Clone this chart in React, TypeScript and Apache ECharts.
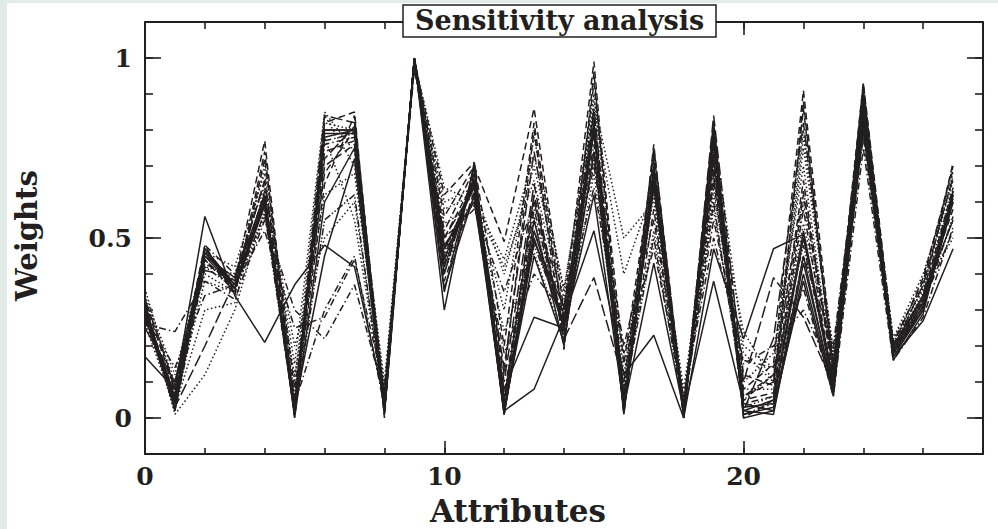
import React, { useEffect, useRef } from "react";
import * as echarts from "echarts";

// Attribute indices on the x axis
const attributes = [0, 1, 2, 3, 4, 5, 6, 7, 8, 9, 10, 11, 12, 13, 14, 15, 16, 17, 18, 19, 20, 21, 22, 23, 24, 25, 26, 27];

// Tick values
const xMinorTicks = [0, 2, 4, 6, 8, 10, 12, 14, 16, 18, 20, 22, 24, 26, 28];
const xMajorTicks = [0, 10, 20];
const yMinorTicks = [-0.1, 0, 0.1, 0.2, 0.3, 0.4, 0.5, 0.6, 0.7, 0.8, 0.9, 1, 1.1];
const yMajorTicks = [0, 0.5, 1];

// Weight profiles (one per sensitivity run)
const s1 = [0.28, 0.04, 0.47, 0.36, 0.60, 0.01, 0.80, 0.80, 0.02, 1.00, 0.42, 0.66, 0.01, 0.50, 0.25, 0.82, 0.02, 0.68, 0.01, 0.80, 0.02, 0.05, 0.52, 0.10, 0.88, 0.18, 0.30, 0.63];
const s2 = [0.17, 0.08, 0.56, 0.34, 0.21, 0.37, 0.48, 0.42, 0.05, 1.00, 0.36, 0.62, 0.02, 0.08, 0.28, 0.52, 0.12, 0.23, 0.00, 0.47, 0.22, 0.47, 0.51, 0.08, 0.80, 0.17, 0.27, 0.47];
const s3 = [0.32, 0.02, 0.45, 0.39, 0.62, 0.00, 0.60, 0.75, 0.03, 0.99, 0.48, 0.60, 0.08, 0.28, 0.25, 0.62, 0.03, 0.43, 0.02, 0.38, 0.04, 0.02, 0.40, 0.07, 0.82, 0.20, 0.34, 0.55];
const s4 = [0.30, 0.06, 0.43, 0.38, 0.77, 0.02, 0.65, 0.84, 0.01, 1.00, 0.56, 0.70, 0.49, 0.86, 0.30, 0.99, 0.05, 0.74, 0.03, 0.68, 0.08, 0.15, 0.91, 0.15, 0.93, 0.21, 0.38, 0.70];
const s5 = [0.33, 0.10, 0.40, 0.35, 0.70, 0.10, 0.84, 0.70, 0.08, 0.98, 0.60, 0.64, 0.40, 0.70, 0.33, 0.88, 0.50, 0.60, 0.06, 0.62, 0.18, 0.10, 0.75, 0.18, 0.86, 0.20, 0.36, 0.68];
const s6 = [0.26, 0.24, 0.38, 0.33, 0.55, 0.30, 0.22, 0.37, 0.06, 0.97, 0.50, 0.58, 0.35, 0.60, 0.30, 0.70, 0.20, 0.55, 0.05, 0.55, 0.15, 0.20, 0.30, 0.12, 0.78, 0.19, 0.32, 0.52];
const s7 = [0.29, 0.03, 0.20, 0.38, 0.66, 0.05, 0.72, 0.81, 0.02, 1.00, 0.40, 0.68, 0.10, 0.65, 0.22, 0.39, 0.10, 0.70, 0.01, 0.84, 0.10, 0.39, 0.28, 0.09, 0.90, 0.18, 0.31, 0.60];
const s8 = [0.31, 0.01, 0.12, 0.30, 0.58, 0.03, 0.78, 0.55, 0.04, 0.99, 0.46, 0.66, 0.05, 0.56, 0.26, 0.80, 0.08, 0.62, 0.02, 0.74, 0.03, 0.06, 0.60, 0.14, 0.85, 0.19, 0.35, 0.64];
const s9 = [0.28, 0.05, 0.48, 0.40, 0.59, 0.04, 0.30, 0.45, 0.03, 1.00, 0.52, 0.69, 0.02, 0.52, 0.28, 0.76, 0.04, 0.66, 0.02, 0.70, 0.01, 0.04, 0.45, 0.20, 0.87, 0.17, 0.33, 0.62];
const s10 = [0.30, 0.05, 0.47, 0.37, 0.61, 0.02, 0.78, 0.80, 0.02, 1.00, 0.44, 0.65, 0.02, 0.45, 0.21, 0.74, 0.02, 0.66, 0.01, 0.77, 0.01, 0.03, 0.38, 0.06, 0.84, 0.17, 0.30, 0.60];
const s11 = [0.27, 0.07, 0.44, 0.36, 0.63, 0.01, 0.70, 0.76, 0.05, 1.00, 0.38, 0.63, 0.04, 0.62, 0.24, 0.85, 0.03, 0.58, 0.01, 0.66, 0.06, 0.10, 0.66, 0.11, 0.83, 0.20, 0.34, 0.58];
const s12 = [0.34, 0.12, 0.46, 0.42, 0.68, 0.06, 0.82, 0.80, 0.07, 0.98, 0.58, 0.62, 0.30, 0.78, 0.35, 0.90, 0.12, 0.70, 0.04, 0.80, 0.20, 0.14, 0.80, 0.16, 0.90, 0.22, 0.37, 0.66];
const s13 = [0.29, 0.02, 0.42, 0.36, 0.57, 0.01, 0.55, 0.62, 0.02, 1.00, 0.43, 0.67, 0.06, 0.48, 0.27, 0.72, 0.06, 0.50, 0.02, 0.60, 0.05, 0.12, 0.48, 0.10, 0.80, 0.18, 0.31, 0.56];
const s14 = [0.31, 0.04, 0.46, 0.37, 0.60, 0.03, 0.45, 0.72, 0.01, 1.00, 0.47, 0.64, 0.01, 0.49, 0.31, 0.79, 0.04, 0.64, 0.02, 0.72, 0.02, 0.01, 0.43, 0.08, 0.85, 0.19, 0.32, 0.61];
const s15 = [0.32, 0.08, 0.48, 0.34, 0.72, 0.08, 0.68, 0.80, 0.04, 0.99, 0.62, 0.71, 0.20, 0.82, 0.26, 0.93, 0.15, 0.72, 0.03, 0.78, 0.12, 0.09, 0.86, 0.13, 0.92, 0.20, 0.39, 0.69];
const s16 = [0.26, 0.03, 0.30, 0.32, 0.64, 0.20, 0.50, 0.60, 0.03, 0.99, 0.54, 0.59, 0.42, 0.66, 0.30, 0.74, 0.10, 0.68, 0.02, 0.64, 0.10, 0.18, 0.70, 0.12, 0.88, 0.21, 0.36, 0.50];
const s17 = [0.30, 0.06, 0.46, 0.38, 0.62, 0.02, 0.76, 0.78, 0.02, 1.00, 0.45, 0.66, 0.03, 0.58, 0.24, 0.82, 0.05, 0.64, 0.01, 0.76, 0.04, 0.06, 0.58, 0.09, 0.86, 0.18, 0.32, 0.63];
const s18 = [0.29, 0.06, 0.45, 0.36, 0.59, 0.01, 0.79, 0.79, 0.03, 1.00, 0.35, 0.70, 0.02, 0.52, 0.26, 0.80, 0.02, 0.67, 0.00, 0.79, 0.03, 0.04, 0.50, 0.11, 0.87, 0.18, 0.31, 0.62];
const s19 = [0.33, 0.09, 0.41, 0.39, 0.66, 0.04, 0.84, 0.82, 0.05, 0.99, 0.50, 0.64, 0.14, 0.74, 0.28, 0.86, 0.06, 0.75, 0.03, 0.73, 0.02, 0.22, 0.82, 0.14, 0.91, 0.19, 0.37, 0.67];
const s20 = [0.27, 0.04, 0.38, 0.35, 0.56, 0.12, 0.62, 0.68, 0.06, 0.99, 0.41, 0.61, 0.24, 0.46, 0.22, 0.68, 0.08, 0.52, 0.04, 0.58, 0.08, 0.08, 0.54, 0.17, 0.83, 0.20, 0.33, 0.55];
const s21 = [0.28, 0.14, 0.34, 0.37, 0.52, 0.25, 0.28, 0.44, 0.08, 0.98, 0.47, 0.60, 0.18, 0.40, 0.29, 0.64, 0.18, 0.47, 0.06, 0.50, 0.16, 0.14, 0.36, 0.06, 0.75, 0.16, 0.28, 0.53];
const s22 = [0.30, 0.05, 0.47, 0.37, 0.61, 0.03, 0.74, 0.77, 0.04, 1.00, 0.44, 0.67, 0.05, 0.60, 0.25, 0.84, 0.03, 0.66, 0.02, 0.75, 0.05, 0.07, 0.62, 0.12, 0.89, 0.19, 0.34, 0.64];
const s23 = [0.25, 0.10, 0.46, 0.36, 0.60, 0.02, 0.80, 0.80, 0.02, 1.00, 0.30, 0.71, 0.01, 0.55, 0.20, 0.80, 0.01, 0.70, 0.00, 0.82, 0.00, 0.02, 0.45, 0.07, 0.86, 0.16, 0.29, 0.62];
const s24 = [0.31, 0.03, 0.44, 0.35, 0.74, 0.00, 0.82, 0.85, 0.00, 1.00, 0.50, 0.66, 0.12, 0.80, 0.19, 0.96, 0.01, 0.76, 0.00, 0.82, 0.00, 0.05, 0.88, 0.10, 0.93, 0.18, 0.34, 0.71];
const s25 = [0.36, 0.07, 0.42, 0.40, 0.65, 0.15, 0.85, 0.74, 0.10, 0.99, 0.64, 0.60, 0.44, 0.73, 0.36, 0.86, 0.40, 0.64, 0.08, 0.66, 0.24, 0.10, 0.78, 0.19, 0.84, 0.22, 0.40, 0.66];
const s26 = [0.29, 0.08, 0.47, 0.36, 0.61, 0.04, 0.77, 0.79, 0.03, 1.00, 0.40, 0.69, 0.06, 0.62, 0.22, 0.81, 0.04, 0.69, 0.02, 0.78, 0.06, 0.12, 0.63, 0.14, 0.88, 0.19, 0.33, 0.63];

const runs = [s1, s2, s3, s4, s5, s6, s7, s8, s9, s10, s11, s12, s13, s14, s15, s16, s17, s18, s19, s20, s21, s22, s23, s24, s25, s26];
const runStyles = [
  "solid", "solid", "solid", "dashed", "dotted", "dashdot", "longdash", "dotted", "dashdot", "solid", "dashed",
  "dotted", "dashdotdot", "solid", "dashed", "dotted", "dashdot", "solid", "longdash", "dotted", "dashdot", "dashed",
  "solid", "dashed", "dotted", "dashdot",
];

const INK = "#231f20";
const FONT = "'DejaVu Serif', 'Liberation Serif', serif";

function dashOf(name: string): any {
  switch (name) {
    case "dashed": return [7, 4];
    case "dotted": return [1.5, 2.5];
    case "dashdot": return [7, 3, 1.5, 3];
    case "longdash": return [12, 4];
    case "dashdotdot": return [7, 2, 1.5, 2, 1.5, 2];
    default: return "solid";
  }
}

export default function App() {
  const ref = useRef<HTMLDivElement>(null);
  useEffect(() => {
    if (!ref.current) return;
    const chart = echarts.init(ref.current, undefined, { renderer: "svg" });
    const tickStyle = { color: INK, width: 1.6 };
    const line = { show: true, onZero: false, lineStyle: { color: INK, width: 2 } };
    const noLine = { show: false, onZero: false };
    const xAx = (grid: number, pos: string, axisLine: any, len: number, ticks: number[], label: any) => ({
      type: "value", gridIndex: grid, position: pos, min: 0, max: 28, splitLine: { show: false },
      axisLine, axisTick: { inside: true, length: len, customValues: ticks, lineStyle: tickStyle }, axisLabel: label,
    });
    const yAx = (grid: number, pos: string, axisLine: any, len: number, ticks: number[], label: any) => ({
      type: "value", gridIndex: grid, position: pos, min: -0.1, max: 1.1, splitLine: { show: false },
      axisLine, axisTick: { inside: true, length: len, customValues: ticks, lineStyle: tickStyle }, axisLabel: label,
    });
    const labelFont = { fontFamily: FONT, fontWeight: "bold", fontSize: 25, color: INK };
    const option: any = {
      animation: false,
      backgroundColor: "#ffffff",
      title: {
        text: "Sensitivity analysis",
        left: 403,
        top: 5,
        padding: [2, 12, 3, 12],
        backgroundColor: "#ffffff",
        borderColor: INK,
        borderWidth: 1.5,
        textStyle: { fontFamily: FONT, fontWeight: "bold", fontSize: 27, color: INK },
      },
      grid: [
        { left: 145, right: 15, top: 22, bottom: 75, containLabel: false },
        { left: 145, right: 15, top: 22, bottom: 75, containLabel: false },
      ],
      xAxis: [
        xAx(0, "bottom", line, 6, xMinorTicks, { show: false }),
        xAx(0, "top", line, 7, xMinorTicks, { show: false }),
        xAx(1, "bottom", noLine, 13, xMajorTicks, { show: true, customValues: xMajorTicks, margin: 10, ...labelFont }),
        xAx(1, "top", noLine, 13, xMajorTicks, { show: false }),
      ],
      yAxis: [
        yAx(0, "left", line, 8, yMinorTicks, { show: false }),
        yAx(0, "right", line, 8, yMinorTicks, { show: false }),
        yAx(1, "left", noLine, 16, yMajorTicks, { show: true, customValues: yMajorTicks, margin: 13, ...labelFont }),
        yAx(1, "right", noLine, 16, yMajorTicks, { show: false }),
      ],
      graphic: [
        { type: "rect", left: 0, top: 0, shape: { width: 7, height: 529 }, style: { fill: "#e3ebe8" }, silent: true },
        { type: "rect", left: 0, top: 0, shape: { width: 998, height: 3 }, style: { fill: "#e3ebe8" }, silent: true },
        {
          type: "text", left: 430, top: 495,
          style: { text: "Attributes", fontFamily: FONT, fontWeight: "bold", fontSize: 31, fill: INK },
        },
        {
          type: "text", x: 12, y: 301, rotation: Math.PI / 2,
          style: { text: "Weights", fontFamily: FONT, fontWeight: "bold", fontSize: 29, fill: INK, align: "left", verticalAlign: "top" },
        },
      ],
      series: runs.map((vals, i) => ({
        type: "line",
        xAxisIndex: 0,
        yAxisIndex: 0,
        symbol: "none",
        silent: true,
        data: vals.map((v, j) => [attributes[j], v]),
        lineStyle: { color: INK, width: 1.5, type: dashOf(runStyles[i]) },
      })),
    };
    chart.setOption(option);
    return () => chart.dispose();
  }, []);
  return <div ref={ref} style={{ position: "fixed", left: 0, top: 0, width: 998, height: 529 }} />;
}
